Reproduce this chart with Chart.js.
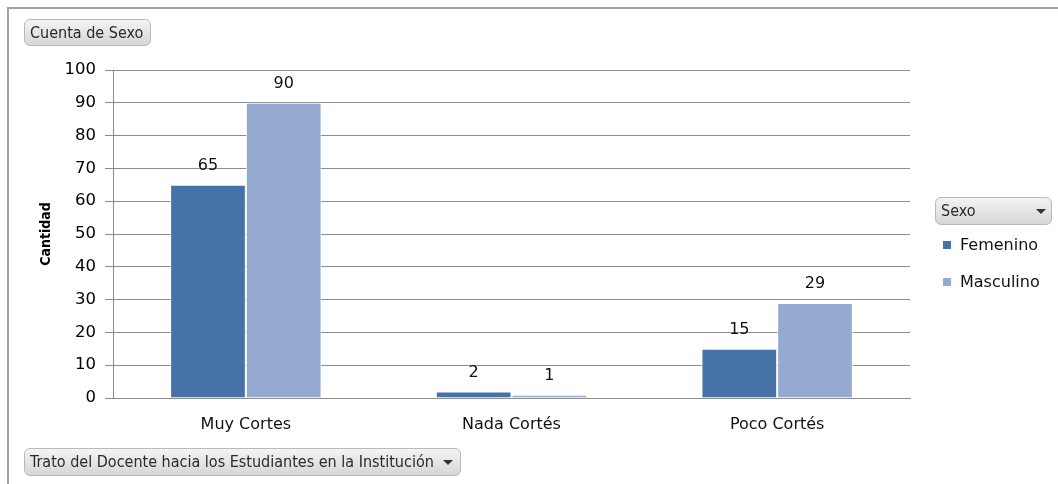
<!DOCTYPE html>
<html>
<head>
<meta charset="utf-8">
<script src="https://cdn.jsdelivr.net/npm/chart.js@4"></script>
<style>
  html, body { margin: 0; padding: 0; background: #fff; }
  #wrap { position: relative; width: 1058px; height: 484px; overflow: hidden; }
  #frame {
    position: absolute; left: 7px; top: 7px; right: -10px; bottom: -10px;
    border-left: 2px solid #a3a3a3; border-top: 2px solid #a3a3a3;
  }
  canvas { position: absolute; left: 0; top: 0; }
  .btn {
    position: absolute; box-sizing: border-box;
    background: linear-gradient(#f4f4f4, #d6d6d6);
    border: 1px solid #b9b9b9; border-radius: 6px;
    font-family: "DejaVu Sans Condensed", "DejaVu Sans", sans-serif;
    font-size: 16px; color: #2a2a2a;
    padding-left: 5px; line-height: 25px; white-space: nowrap;
  }
  .btn .arrow {
    position: absolute; top: 11px; width: 0; height: 0;
    border-left: 5px solid transparent; border-right: 5px solid transparent;
    border-top: 5px solid #333;
  }
  #legend {
    position: absolute; left: 943px; top: 233px;
    font-family: "DejaVu Sans", sans-serif; font-size: 16px; color: #111;
  }
  .item { position: relative; height: 37px; padding-left: 17px; line-height: 24px; }
  .item .box { position: absolute; left: 0; top: 8px; width: 8px; height: 8px; }
</style>
</head>
<body>
<div id="wrap">
  <canvas id="chart" width="1058" height="484"></canvas>
  <div id="frame"></div>
  <div class="btn" style="left:24px;top:19px;width:127px;height:27px;">Cuenta de Sexo</div>
  <div class="btn" style="left:935px;top:197px;width:117px;height:28px;">Sexo<span class="arrow" style="left:100px"></span></div>
  <div class="btn" style="left:24px;top:448px;width:437px;height:28px;">Trato del Docente hacia los Estudiantes en la Institución<span class="arrow" style="left:418px"></span></div>
  <div id="legend"></div>
</div>
<script>
// datos del gráfico
const categorias = ['Muy Cortes', 'Nada Cortés', 'Poco Cortés'];
const femenino = [65, 2, 15];
const masculino = [90, 1, 29];
const ticksY = [0, 10, 20, 30, 40, 50, 60, 70, 80, 90, 100];

const fuente = '"DejaVu Sans", sans-serif';
const gris = '#8c8c8c';

// etiquetas de valor encima de cada barra
const etiquetasBarras = {
    id: 'etiquetasBarras',
    afterDatasetsDraw(chart) {
        const ctx = chart.ctx;
        ctx.save();
        ctx.font = '16px ' + fuente;
        ctx.fillStyle = '#111';
        ctx.textAlign = 'center';
        ctx.textBaseline = 'middle';
        chart.data.datasets.forEach((ds, i) => {
            chart.getDatasetMeta(i).data.forEach((bar, j) => {
                ctx.fillText(String(ds.data[j]), bar.x, bar.y - 19);
            });
        });
        ctx.restore();
    }
};

const chart = new Chart(document.getElementById('chart').getContext('2d'), {
    type: 'bar',
    data: {
        labels: categorias,
        datasets: [{
            label: 'Femenino',
            data: femenino,
            backgroundColor: '#4572a7',
            borderColor: '#ffffff',
            borderWidth: 1
        }, {
            label: 'Masculino',
            data: masculino,
            backgroundColor: '#94aad1',
            borderColor: '#ffffff',
            borderWidth: 1
        }]
    },
    options: {
        responsive: false,
        animation: false,
        categoryPercentage: 0.57,
        barPercentage: 1,
        layout: { padding: { left: 0, top: 70, right: 148, bottom: 36 } },
        plugins: {
            legend: { display: false },
            tooltip: { enabled: false }
        },
        scales: {
            x: {
                grid: { display: false, drawTicks: false },
                border: { display: true, color: gris },
                ticks: { font: { family: fuente, size: 16 }, color: '#111', padding: 17 },
                afterFit: scale => { scale.height = 50; }
            },
            y: {
                min: 0,
                max: 100,
                afterBuildTicks: scale => { scale.ticks = ticksY.map(v => ({ value: v })); },
                grid: { color: gris, tickLength: 8 },
                border: { display: true, color: gris },
                ticks: { font: { family: fuente, size: 16.5 }, color: '#000', padding: 9 },
                title: {
                    display: true,
                    text: 'Cantidad',
                    font: { family: '"DejaVu Sans Condensed", "DejaVu Sans", sans-serif', size: 14, weight: 'bold' },
                    color: '#000',
                    padding: { top: 38, bottom: 0 }
                },
                afterFit: scale => { scale.width = 113; }
            }
        }
    },
    plugins: [etiquetasBarras]
});

// leyenda en HTML a partir de los datasets
const leyenda = document.getElementById('legend');
chart.data.datasets.forEach(ds => {
    const item = document.createElement('div');
    item.className = 'item';
    item.innerHTML = `<span class="box" style="background:${ds.backgroundColor}"></span>${ds.label}`;
    leyenda.appendChild(item);
});
</script>
</body>
</html>
